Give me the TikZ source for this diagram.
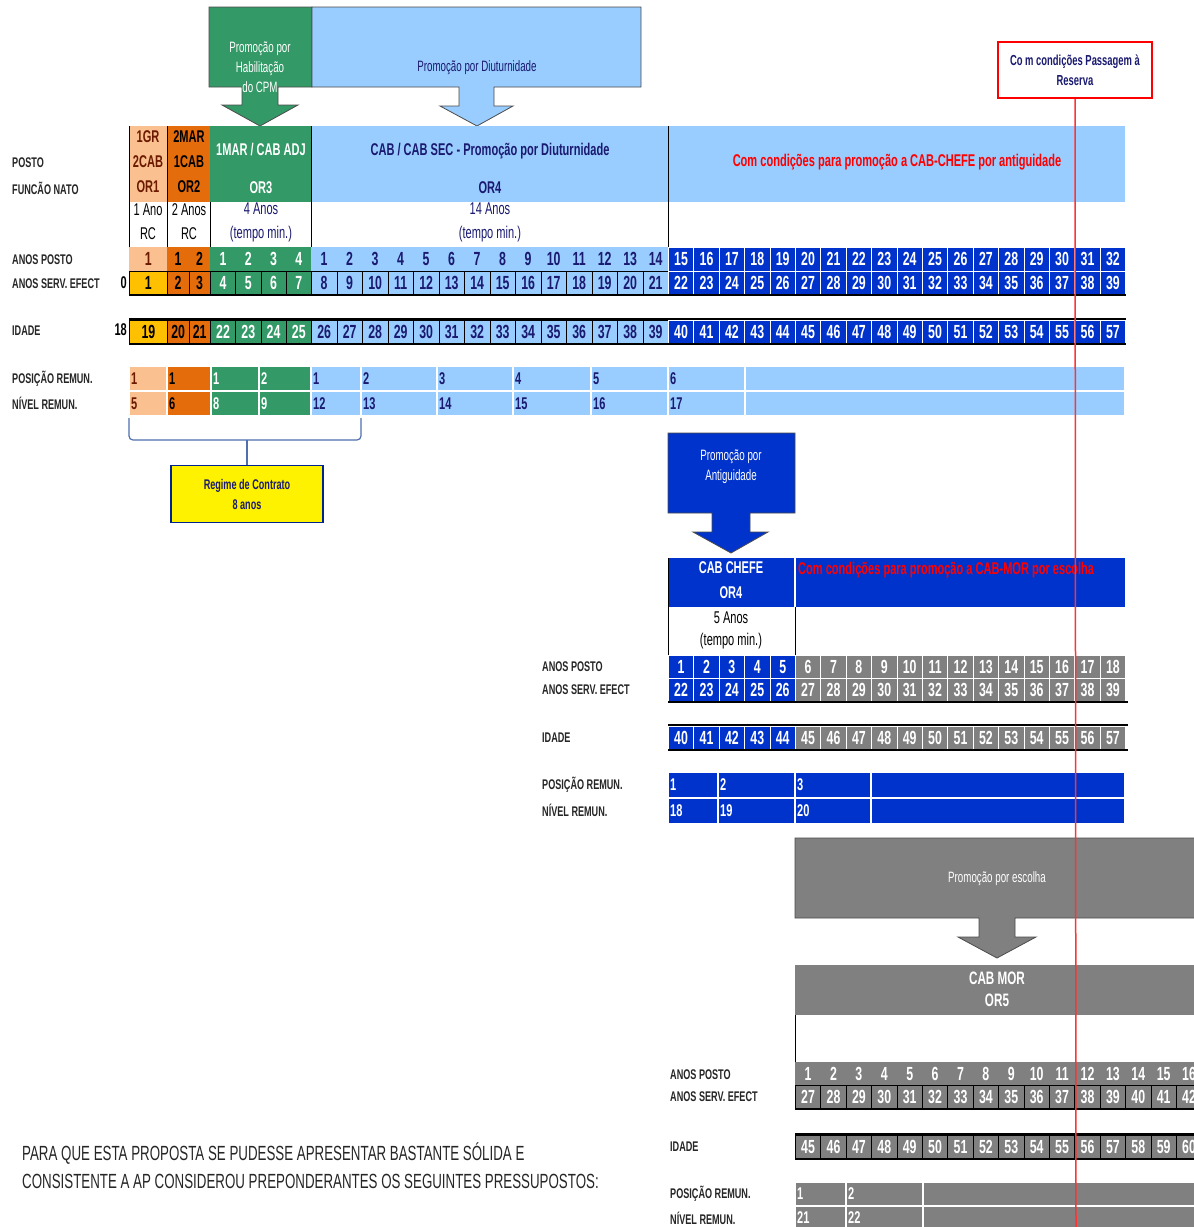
\documentclass[tikz,border=0pt]{standalone}
\usepackage{fontspec}
\setmainfont{Liberation Sans}[FakeStretch=0.65]
\usetikzlibrary{positioning}

\definecolor{peach}{HTML}{FAC090}
\definecolor{rust}{HTML}{E46C0A}
\definecolor{sea}{HTML}{339966}
\definecolor{sky}{HTML}{99CCFF}
\definecolor{royal}{HTML}{0033CC}
\definecolor{amber}{HTML}{FFC000}
\definecolor{slate}{HTML}{808080}
\definecolor{ink}{HTML}{1A1A70}
\definecolor{alarm}{HTML}{FF0000}
\definecolor{maroon}{HTML}{6B1A00}
\definecolor{bracecol}{HTML}{4F6FAF}

\newcommand{\fsz}[2]{\fontsize{#1}{#2}\selectfont}

% one row of numbered cells: x0, cell width, top y, first, last, style, name prefix
\newcommand{\cellrow}[7]{%
  \foreach \n [count=\k from 0] in {#4,...,#5}
    \node[#6, minimum width=#2pt, anchor=north west] (#7\n) at ({#1+\k*#2}, #3) {\n};
}

\tikzset{
  cell/.style={inner sep=0pt, minimum height=23.5pt, font=\fsz{19}{20}\bfseries, line width=0.8pt},
  boxed/.style={draw=black},
  pc/.style={cell, fill=peach, text=maroon},
  oc/.style={cell, fill=rust, text=black},
  gc/.style={cell, fill=sea, text=white},
  lc/.style={cell, fill=sky, text=ink},
  yc/.style={cell, fill=amber, text=black},
  dc/.style={cell, fill=royal, text=white, draw=white},
  sc/.style={cell, fill=slate, text=white, draw=white},
  gyc/.style={cell, fill=slate, text=white},
  lbl/.style={anchor=west, inner sep=0pt, font=\fsz{14}{15}\bfseries, text=black!85},
  head/.style={inner sep=0pt, align=center, font=\fsz{17}{25}\bfseries},
  calltxt/.style={inner sep=0pt, align=center, font=\fsz{15}{20}},
  remtxt/.style={anchor=west, inner sep=2pt, font=\fsz{17}{18}\bfseries},
  callout/.style={draw=black!70, line width=0.8pt},
  sep/.style={draw=black, line width=0.8pt},
  rule/.style={draw=black, line width=2pt},
  bracket/.style={draw=bracecol, line width=1.2pt, rounded corners=4pt},
  redline/.style={draw=alarm!80, line width=1.5pt}
}

\begin{document}
\begin{tikzpicture}[x=1pt, y=-1pt]
  \useasboundingbox (0,0) rectangle (1194,1227);
  \clip (0,0) rectangle (1194,1227);
  \fill[white] (0,0) rectangle (1194,1227);

  % promotion callouts at the top
  \filldraw[callout, fill=sea] (209,7) -- (312,7) -- (312,87) -- (278,87) -- (278,105) -- (298,105)
    -- (260,126) -- (222,105) -- (242,105) -- (242,87) -- (209,87) -- cycle;
  \filldraw[callout, fill=sky] (312,7) -- (641,7) -- (641,87) -- (494,87) -- (494,106) -- (513,106)
    -- (477,126) -- (440,106) -- (459,106) -- (459,87) -- (312,87) -- cycle;
  \node[calltxt, text=white] (habil) at (260,67) {Promoção por\\Habilitação\\do CPM};
  \node[calltxt, text=ink] (diut) at (477,68) {Promoção por Diuturnidade};

  \node[draw=alarm, line width=1.5pt, fill=white, minimum width=154pt, minimum height=56pt,
    align=center, font=\fsz{14.5}{20}\bfseries, text=ink] (reserva) at (1075,70)
    {Co m condições Passagem à\\Reserva};

  % header of the first block
  \fill[peach] (129,126) rectangle (167,202);
  \fill[rust] (167,126) rectangle (210,202);
  \fill[sea] (210,126) rectangle (311,202);
  \fill[sky] (311,126) rectangle (1125,202);
  \draw[sep] (129,126) -- (129,295);
  \draw[sep] (167,126) -- (167,247);
  \draw[sep] (210,202) -- (210,247);
  \draw[sep] (311,126) -- (311,247);
  \draw[sep] (668,126) -- (668,247);

  \node[head, text=maroon] (or1) at (148,162) {1GR\\2CAB\\OR1};
  \node[head, text=black] (or2) at (189,162) {2MAR\\1CAB\\OR2};
  \node[head, text=white] (or3) at (261,168) {1MAR / CAB ADJ\\[13pt]OR3};
  \node[head, text=ink] (or4) at (490,168) {CAB / CAB SEC - Promoção por Diuturnidade\\[13pt]OR4};
  \node[head, text=alarm] (chefe) at (897,162) {Com condições para promoção a CAB-CHEFE por antiguidade};

  \node[head, font=\fsz{17}{24}, text=black] (t1) at (148,222) {1 Ano\\RC};
  \node[head, font=\fsz{17}{24}, text=black] (t2) at (189,222) {2 Anos\\RC};
  \node[head, font=\fsz{17}{24}, text=ink] (t3) at (261,222) {4 Anos\\(tempo min.)};
  \node[head, font=\fsz{17}{24}, text=ink] (t4) at (490,222) {14 Anos\\(tempo min.)};

  % labels of the first block
  \node[lbl] (lposto) at (12,163) {POSTO};
  \node[lbl] (lfunc) at (12,188) {FUNCÃO NATO};
  \node[lbl] (lap) at (12,260) {ANOS POSTO};
  \node[lbl] (las) at (12,284) {ANOS SERV. EFECT};
  \node[lbl] (lid) at (12,331) {IDADE};
  \node[lbl] (lpr) at (12,379) {POSIÇÃO REMUN.};
  \node[lbl] (lnr) at (12,403) {NÍVEL REMUN.};
  \node[anchor=east, inner sep=0pt, font=\fsz{17}{18}\bfseries] (zero) at (127,283) {0};
  \node[anchor=east, inner sep=0pt, font=\fsz{17}{18}\bfseries] (eighteen) at (127,330) {18};

  % anos posto / anos serv. / idade
  \cellrow{129}{38}{247}{1}{1}{pc}{apA}
  \cellrow{167}{21.5}{247}{1}{2}{oc}{apB}
  \cellrow{210}{25.25}{247}{1}{4}{gc}{apC}
  \cellrow{311}{25.5}{247}{1}{14}{lc}{apD}
  \cellrow{668}{25.4}{247}{15}{32}{dc}{apE}

  \cellrow{129}{38}{271}{1}{1}{yc,boxed}{asA}
  \cellrow{167}{21.5}{271}{2}{3}{oc,boxed}{asB}
  \cellrow{210}{25.25}{271}{4}{7}{gc,boxed}{asC}
  \cellrow{311}{25.5}{271}{8}{21}{lc,boxed}{asD}
  \cellrow{668}{25.4}{271}{22}{39}{dc}{asE}
  \draw[rule] (129,295) -- (1126,295);

  \cellrow{129}{38}{319.5}{19}{19}{yc,boxed}{idA}
  \cellrow{167}{21.5}{319.5}{20}{21}{oc,boxed}{idB}
  \cellrow{210}{25.25}{319.5}{22}{25}{gc,boxed}{idC}
  \cellrow{311}{25.5}{319.5}{26}{39}{lc,boxed}{idD}
  \cellrow{668}{25.4}{319.5}{40}{57}{dc}{idE}
  \draw[rule] (129,318.5) -- (1126,318.5);
  \draw[rule] (129,343.5) -- (1126,343.5);

  % posicao / nivel remuneratorio
  \foreach \a/\b/\c/\tc/\p/\v in {129/167/peach/maroon/1/5, 167/211/rust/black/1/6,
      211/259/sea/white/1/8, 259/311/sea/white/2/9, 311/361/sky/ink/1/12, 361/437/sky/ink/2/13,
      437/513/sky/ink/3/14, 513/591/sky/ink/4/15, 591/668/sky/ink/5/16, 668/745/sky/ink/6/17} {
    \filldraw[fill=\c, draw=white, line width=1.5pt] (\a,366) rectangle (\b,391);
    \filldraw[fill=\c, draw=white, line width=1.5pt] (\a,391) rectangle (\b,416);
    \node[remtxt, text=\tc] (pr\a) at (\a,378.5) {\p};
    \node[remtxt, text=\tc] (nr\a) at (\a,403.5) {\v};
  }
  \filldraw[fill=sky, draw=white, line width=1.5pt] (745,366) rectangle (1125,391);
  \filldraw[fill=sky, draw=white, line width=1.5pt] (745,391) rectangle (1125,416);

  % regime de contrato
  \node[draw=royal!70!black, line width=1.5pt, fill=yellow, minimum width=152pt, minimum height=57pt,
    align=center, font=\fsz{14}{20}\bfseries, text=ink] (regime) at (247,494) {Regime de Contrato\\8 anos};
  \coordinate (brl) at (129,418);
  \coordinate (brr) at (361,418);
  \coordinate (brm) at (247,440);
  \draw[bracket] (brl) -- (129,440) -- (361,440) -- (brr);
  \draw[bracket] (brm) -- (regime.north);

  % cab chefe block
  \filldraw[callout, fill=royal] (668,433) -- (795,433) -- (795,513) -- (750,513) -- (750,532) -- (768,532)
    -- (731,553) -- (693,532) -- (712,532) -- (712,513) -- (668,513) -- cycle;
  \node[calltxt, text=white] (antig) at (731,467) {Promoção por\\Antiguidade};

  \fill[royal] (668,558) rectangle (1125,607);
  \draw[white, line width=1.5pt] (795,558) -- (795,607);
  \draw[sep] (668,558) -- (668,655);
  \draw[sep] (795,607) -- (795,655);
  \node[head, text=white] (chefeh) at (731,580) {CAB CHEFE\\OR4};
  \node[head, anchor=north west, text=alarm] (mor) at (798,562) {Com condições para promoção a CAB-MOR por escolha};
  \node[head, font=\fsz{17}{22}, text=black] (t5) at (731,630) {5 Anos\\(tempo min.)};

  \node[lbl] (map) at (542,667) {ANOS POSTO};
  \node[lbl] (mas) at (542,690) {ANOS SERV. EFECT};
  \node[lbl] (mid) at (542,738) {IDADE};
  \node[lbl] (mpr) at (542,785) {POSIÇÃO REMUN.};
  \node[lbl] (mnr) at (542,810) {NÍVEL REMUN.};

  \cellrow{668}{25.4}{655}{1}{5}{dc}{mapA}
  \cellrow{795}{25.4}{655}{6}{18}{sc}{mapB}
  \cellrow{668}{25.4}{678}{22}{26}{dc}{masA}
  \cellrow{795}{25.4}{678}{27}{39}{sc}{masB}
  \draw[rule] (668,702) -- (1128,702);
  \cellrow{668}{25.4}{726}{40}{44}{dc}{midA}
  \cellrow{795}{25.4}{726}{45}{57}{sc}{midB}
  \draw[rule] (668,725) -- (1128,725);
  \draw[rule] (668,750) -- (1128,750);

  \foreach \a/\b/\p/\v in {668/718/1/18, 718/795/2/19, 795/871/3/20} {
    \filldraw[fill=royal, draw=white, line width=1.5pt] (\a,772) rectangle (\b,798);
    \filldraw[fill=royal, draw=white, line width=1.5pt] (\a,798) rectangle (\b,824);
    \node[remtxt, text=white] (mpr\a) at (\a,785) {\p};
    \node[remtxt, text=white] (mnr\a) at (\a,811) {\v};
  }
  \filldraw[fill=royal, draw=white, line width=1.5pt] (871,772) rectangle (1125,798);
  \filldraw[fill=royal, draw=white, line width=1.5pt] (871,798) rectangle (1125,824);

  % cab mor block
  \filldraw[callout, fill=slate] (795,838) -- (1200,838) -- (1200,918) -- (1015,918) -- (1015,937) -- (1036,937)
    -- (997,958) -- (958,937) -- (979,937) -- (979,918) -- (795,918) -- cycle;
  \node[calltxt, text=white] (escol) at (997,879) {Promoção por escolha};

  \fill[slate] (795,965) rectangle (1200,1015);
  \draw[sep] (795,1015) -- (795,1062);
  \node[head, font=\fsz{18}{22}\bfseries, text=white] (morh) at (997,989) {CAB MOR\\OR5};

  \node[lbl] (bap) at (670,1075) {ANOS POSTO};
  \node[lbl] (bas) at (670,1097) {ANOS SERV. EFECT};
  \node[lbl] (bid) at (670,1147) {IDADE};
  \node[lbl] (bpr) at (670,1194) {POSIÇÃO REMUN.};
  \node[lbl] (bnr) at (670,1218) {NÍVEL REMUN.};

  \cellrow{795}{25.4}{1062}{1}{16}{gyc}{bapA}
  \cellrow{795}{25.4}{1085}{27}{42}{gyc,boxed}{basA}
  \draw[rule] (795,1109) -- (1200,1109);
  \cellrow{795}{25.4}{1134.5}{45}{60}{gyc,boxed}{bidA}
  \draw[rule] (795,1133.5) -- (1200,1133.5);
  \draw[rule] (795,1158.5) -- (1200,1158.5);

  \foreach \a/\b/\p/\v in {795/846/1/21, 846/923/2/22} {
    \filldraw[fill=slate, draw=white, line width=1.5pt] (\a,1182) rectangle (\b,1206);
    \filldraw[fill=slate, draw=white, line width=1.5pt] (\a,1206) rectangle (\b,1232);
    \node[remtxt, text=white] (bpr\a) at (\a,1194) {\p};
    \node[remtxt, text=white] (bnr\a) at (\a,1218) {\v};
  }
  \filldraw[fill=slate, draw=white, line width=1.5pt] (923,1182) rectangle (1200,1206);
  \filldraw[fill=slate, draw=white, line width=1.5pt] (923,1206) rectangle (1200,1232);

  % text below
  \node[anchor=west, align=left, inner sep=0pt, font=\fsz{20.5}{28}, text=black!85] (pressup) at (22,1166)
    {PARA QUE ESTA PROPOSTA SE PUDESSE APRESENTAR BASTANTE SÓLIDA E\\
     CONSISTENTE A AP CONSIDEROU PREPONDERANTES OS SEGUINTES PRESSUPOSTOS:};

  % limit for passing to the reserve
  \coordinate (resend) at (1076,1227);
  \draw[redline] (reserva.south) -- (resend);
\end{tikzpicture}
\end{document}
